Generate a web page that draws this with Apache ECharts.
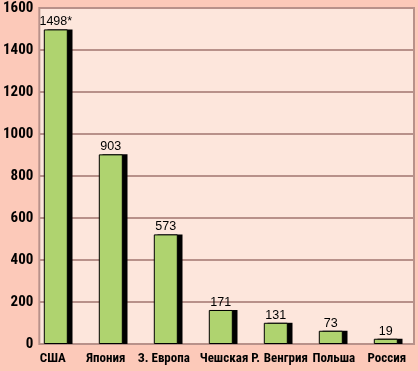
<!DOCTYPE html>
<html><head><meta charset="utf-8">
<script src="https://cdn.jsdelivr.net/npm/echarts@6/dist/echarts.min.js"></script>
<style>html,body{margin:0;padding:0;background:#fcc9b9;}#c{width:418px;height:371px;}</style>
</head><body><div id="c"></div>
<script>
const categories = ["США", "Япония", "З. Европа", "Чешская Р.", "Венгрия", "Польша", "Россия"];
const barValues = [1498, 903, 522, 162, 101, 63, 25];
const labelTexts = ["1498*", "903", "573", "171", "131", "73", "19"];
const yTicks = [0, 200, 400, 600, 800, 1000, 1200, 1400, 1600];

// horizontal nudge (px) of each category label, as placed in the original
const labelShift = [-3, -5, -2, 9, 10, 3, 1];

const narrow = "'Roboto Condensed', 'Open Sans Condensed', sans-serif";
const yMin = yTicks[0], yMax = yTicks[yTicks.length - 1];
const rich = {};
labelShift.forEach((s, i) => {
  rich['s' + i] = {fontFamily: narrow, fontWeight: 'bold', fontSize: 13, color: '#000',
    padding: s >= 0 ? [0, 0, 0, 2 * s] : [0, -2 * s, 0, 0]};
});
const chart = echarts.init(document.getElementById('c'), null, {renderer: 'canvas'});
chart.setOption({
  backgroundColor: '#fcc9b9',
  animation: false,
  grid: [
    {left: 35, top: 8, width: 379, height: 336, show: true, backgroundColor: '#fde6dc', borderColor: '#b8918a', borderWidth: 2},
    {left: 28.3, top: 8, width: 385, height: 336},
    {left: 32.5, top: 8, width: 385, height: 336}
  ],
  xAxis: [
    {gridIndex: 0, type: 'value', min: 0, max: 1, show: false},
    {gridIndex: 1, type: 'category', data: categories, axisLine: {show: false}, axisTick: {show: false},
     axisLabel: {interval: 0, margin: 8, color: '#000', fontFamily: narrow, fontWeight: 'bold', fontSize: 13,
       formatter: (v, i) => '{s' + i + '|' + v + '}', rich: rich}},
    {gridIndex: 2, type: 'category', data: categories, show: false}
  ],
  yAxis: [
    {gridIndex: 0, type: 'value', min: yMin, max: yMax, interval: 200,
     axisLine: {show: false}, axisTick: {show: false},
     splitLine: {show: true, lineStyle: {color: '#b8918a', width: 2}},
     axisLabel: {margin: 6, color: '#000', fontFamily: narrow, fontWeight: 'bold', fontSize: 15, formatter: v => String(v)}},
    {gridIndex: 1, type: 'value', min: yMin, max: yMax, show: false},
    {gridIndex: 2, type: 'value', min: yMin, max: yMax, show: false}
  ],
  series: [
    {type: 'bar', xAxisIndex: 2, yAxisIndex: 2, data: barValues, barWidth: 25, z: 1,
     itemStyle: {color: '#000'}, silent: true},
    {type: 'bar', xAxisIndex: 1, yAxisIndex: 1, data: barValues, barWidth: 24, z: 3,
     itemStyle: {color: '#afd36f', borderColor: '#000', borderWidth: 1},
     label: {show: true, position: 'top', distance: 1, color: '#000', fontFamily: "'Liberation Sans', Arial, sans-serif", fontSize: 12.5,
       formatter: p => labelTexts[p.dataIndex]}}
  ]
});
</script></body></html>
